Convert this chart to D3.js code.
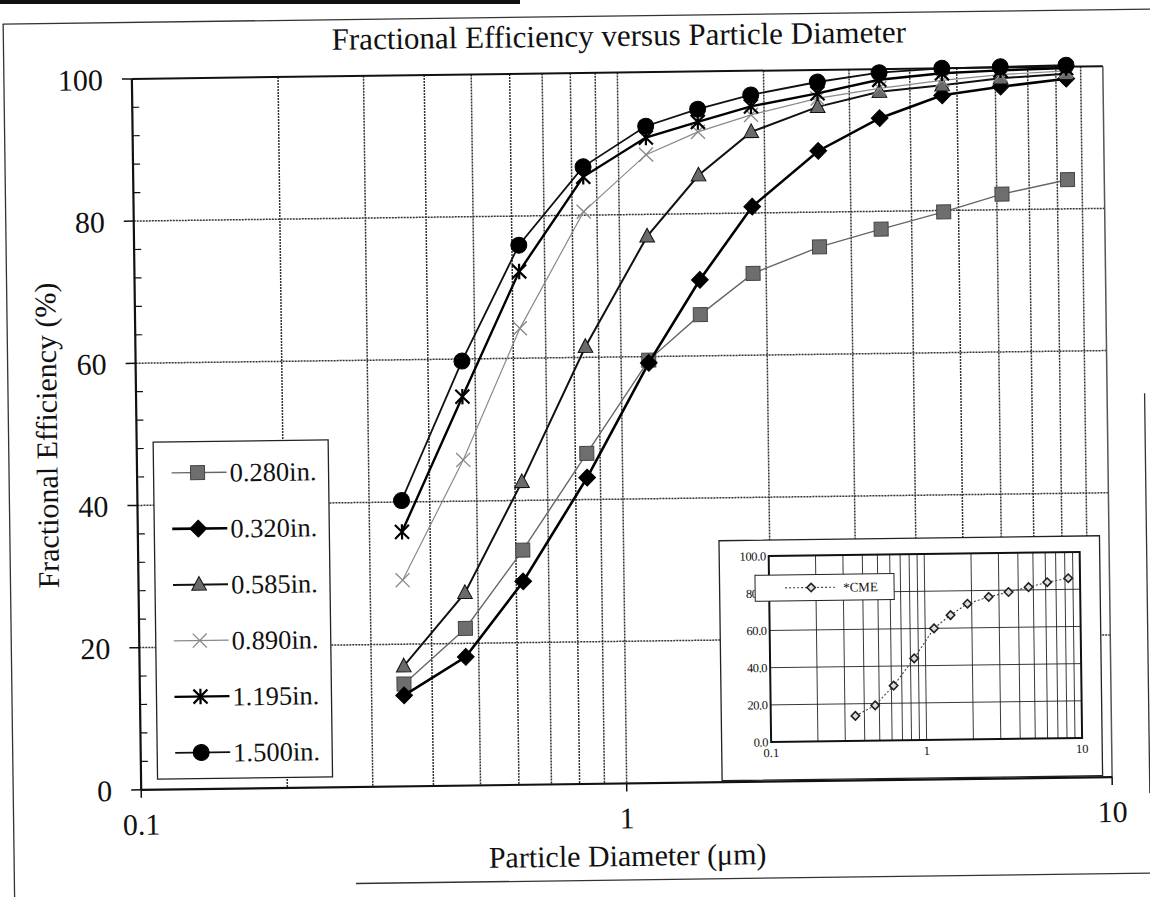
<!DOCTYPE html>
<meta charset='utf-8'>
<script src='https://d3js.org/d3.v7.min.js'></script>
<style>
body { margin: 0; background: #fff; }
text { font-family: 'Liberation Serif', 'Times New Roman', serif; fill: #111; }
</style>
<body>
<script>
// particle diameters (um) shared by every series
var diameters = [0.35, 0.47, 0.62, 0.845, 1.14, 1.46, 1.88, 2.58, 3.46, 4.66, 6.15, 8.4];

var eff280  = [14.4, 22.1, 33.0, 46.5, 59.5, 65.8, 71.5, 75.1, 77.5, 79.8, 82.2, 84.1];
var eff320  = [12.8, 18.1, 28.6, 43.1, 59.1, 70.7, 80.9, 88.6, 93.1, 96.2, 97.3, 98.3];
var eff585  = [16.9, 27.1, 42.6, 61.5, 76.9, 85.4, 91.4, 94.8, 96.8, 97.6, 98.5, 99.0];
var eff890  = [29.0, 45.8, 64.2, 80.5, 88.4, 91.5, 93.8, 96.0, 97.3, 98.3, 99.0, 99.4];
var eff1195 = [35.8, 54.7, 72.2, 85.4, 90.8, 92.9, 95.0, 96.7, 98.5, 99.3, 99.6, 99.8];
var eff1500 = [40.2, 59.7, 75.9, 86.8, 92.4, 94.7, 96.6, 98.3, 99.5, 100.0, 100.1, 100.2];

var seriesNames = ['0.280in.', '0.320in.', '0.585in.', '0.890in.', '1.195in.', '1.500in.'];

// inset chart
var cmeName = '*CME';
var cme = [13.5, 19, 29.5, 44, 60, 67, 73, 76.5, 79, 81.5, 84, 86];

var yTicks = [0, 20, 40, 60, 80, 100];
var xTickLabels = ['0.1', '1', '10'];
var insetYLabels = ['0.0', '20.0', '40.0', '60.0', '80.0', '100.0'];

var styles = [
  {sym: 'square',   line: '#666',    lw: 1.4, fill: '#6e6e6e', stroke: '#444'},
  {sym: 'diamond',  line: '#000',    lw: 2.6, fill: '#000',    stroke: '#000'},
  {sym: 'triangle', line: '#111',    lw: 2.0, fill: '#6a6a6a', stroke: '#111'},
  {sym: 'x',        line: '#8a8a8a', lw: 1.2, fill: 'none',    stroke: '#888'},
  {sym: 'star',     line: '#000',    lw: 2.4, fill: 'none',    stroke: '#000'},
  {sym: 'circle',   line: '#111',    lw: 1.8, fill: '#000',    stroke: '#000'}
];
var series = [eff280, eff320, eff585, eff890, eff1195, eff1500].map(function(v, i) {
  return {name: seriesNames[i], values: v, style: styles[i]};
});

function symbolPath(type, s) {
  if (type == 'square') return 'M' + (-s) + ',' + (-s) + 'h' + 2*s + 'v' + 2*s + 'h' + (-2*s) + 'Z';
  if (type == 'diamond') { var d = s * 1.2; return 'M0,' + (-d) + 'L' + d + ',0L0,' + d + 'L' + (-d) + ',0Z'; }
  if (type == 'triangle') return 'M0,' + (-s * 1.15) + 'L' + s * 1.05 + ',' + s * 0.8 + 'L' + (-s * 1.05) + ',' + s * 0.8 + 'Z';
  if (type == 'x') return 'M' + (-s) + ',' + (-s) + 'L' + s + ',' + s + 'M' + (-s) + ',' + s + 'L' + s + ',' + (-s);
  if (type == 'star') return 'M' + (-s) + ',' + (-s) + 'L' + s + ',' + s + 'M' + (-s) + ',' + s + 'L' + s + ',' + (-s) + 'M0,' + (-s * 1.1) + 'L0,' + s * 1.1;
  if (type == 'circle') return 'M' + s + ',0A' + s + ',' + s + ' 0 1,1 ' + (-s) + ',0A' + s + ',' + s + ' 0 1,1 ' + s + ',0Z';
}
function markerWidth(sym) { return sym == 'x' ? 1.3 : (sym == 'star' ? 2.2 : 1); }

var width = 1150, height = 897;
var svg = d3.select('body').append('svg').attr('width', width).attr('height', height);
svg.append('rect').attr('width', width).attr('height', height).attr('fill', '#fff');

// scanned page edge
svg.append('line').attr('x1', 0).attr('x2', 520).attr('y1', 2).attr('y2', 2)
  .attr('stroke', '#111').attr('stroke-width', 4);

// the scan is slightly rotated
var g = svg.append('g').attr('transform', 'rotate(-0.75,622,428)');

// outer chart frame
g.append('line').attr('x1', 8).attr('x2', 1170).attr('y1', 16).attr('y2', 16).attr('stroke', '#333').attr('stroke-width', 1.3);
g.append('line').attr('x1', 8.5).attr('x2', 8.5).attr('y1', 16).attr('y2', 910).attr('stroke', '#333').attr('stroke-width', 1.3);
g.append('line').attr('x1', 350).attr('x2', 1170).attr('y1', 880).attr('y2', 880).attr('stroke', '#333').attr('stroke-width', 1.3);
g.append('line').attr('x1', 1145).attr('x2', 1145).attr('y1', 400).attr('y2', 800).attr('stroke', '#333').attr('stroke-width', 1.3);

var L = 136.5, T = 72.5, W = 971, H = 711;
var x = d3.scaleLog().domain([0.1, 10]).range([L, L + W]);
var y = d3.scaleLinear().domain([0, 100]).range([T + H, T]);

// grid
var xGrid = x.ticks().filter(function(d) { return d > 0.1 && d < 10; });
g.append('g').selectAll('line').data(xGrid).join('line')
  .attr('x1', function(d) { return x(d); }).attr('x2', function(d) { return x(d); })
  .attr('y1', T).attr('y2', T + H)
  .attr('stroke', '#333').attr('stroke-width', 1.5).attr('stroke-dasharray', '2,1');
g.append('g').selectAll('line').data(yTicks.filter(function(d) { return d > 0 && d < 100; })).join('line')
  .attr('x1', L).attr('x2', L + W)
  .attr('y1', function(d) { return y(d); }).attr('y2', function(d) { return y(d); })
  .attr('stroke', '#333').attr('stroke-width', 1.5).attr('stroke-dasharray', '2,1');

// plot frame
g.append('line').attr('x1', L).attr('x2', L + W).attr('y1', T).attr('y2', T).attr('stroke', '#111').attr('stroke-width', 2);
g.append('line').attr('x1', L + W).attr('x2', L + W).attr('y1', T).attr('y2', T + H).attr('stroke', '#555').attr('stroke-width', 1.5);
g.append('line').attr('x1', L).attr('x2', L + W).attr('y1', T + H).attr('y2', T + H).attr('stroke', '#111').attr('stroke-width', 2.2);
g.append('line').attr('x1', L).attr('x2', L).attr('y1', T).attr('y2', T + H).attr('stroke', '#111').attr('stroke-width', 2.2);

// y ticks: major outside, minor inside every 4
g.append('g').selectAll('line').data(yTicks).join('line')
  .attr('x1', L - 10).attr('x2', L)
  .attr('y1', function(d) { return y(d); }).attr('y2', function(d) { return y(d); })
  .attr('stroke', '#111').attr('stroke-width', 1.5);
g.append('g').selectAll('line').data(d3.range(4, 100, 4).filter(function(d) { return d % 20 != 0; })).join('line')
  .attr('x1', L).attr('x2', L + 7)
  .attr('y1', function(d) { return y(d); }).attr('y2', function(d) { return y(d); })
  .attr('stroke', '#111').attr('stroke-width', 1.2);
g.append('g').selectAll('text').data(yTicks).join('text')
  .attr('x', L - 29).attr('y', function(d) { return y(d); })
  .attr('dy', '0.36em').attr('text-anchor', 'end').attr('font-size', 30)
  .text(function(d) { return d; });

// x ticks
var xMajor = [0.1, 1, 10];
g.append('g').selectAll('line').data(xMajor).join('line')
  .attr('x1', function(d) { return x(d); }).attr('x2', function(d) { return x(d); })
  .attr('y1', T + H).attr('y2', T + H + 8)
  .attr('stroke', '#111').attr('stroke-width', 1.5);
g.append('g').selectAll('text').data(xMajor).join('text')
  .attr('x', function(d) { return x(d); }).attr('y', T + H + 45)
  .attr('text-anchor', 'middle').attr('font-size', 30)
  .text(function(d, i) { return xTickLabels[i]; });

// titles
g.append('text').attr('x', 624).attr('y', 46).attr('text-anchor', 'middle').attr('font-size', 31)
  .text('Fractional Efficiency versus Particle Diameter');
g.append('text').attr('x', 622).attr('y', 866).attr('text-anchor', 'middle').attr('font-size', 30)
  .text('Particle Diameter (\u03bcm)');
g.append('text').attr('transform', 'translate(57,428) rotate(-90)').attr('text-anchor', 'middle').attr('font-size', 30)
  .text('Fractional Efficiency (%)');

// series
var line = d3.line().x(function(d) { return x(d[0]); }).y(function(d) { return y(d[1]); });
var sg = g.append('g').selectAll('g').data(series).join('g');
sg.append('path')
  .attr('d', function(s) { return line(diameters.map(function(dd, i) { return [dd, s.values[i]]; })); })
  .attr('fill', 'none')
  .attr('stroke', function(s) { return s.style.line; })
  .attr('stroke-width', function(s) { return s.style.lw; });
sg.each(function(s) {
  d3.select(this).selectAll('path.m').data(s.values).join('path').attr('class', 'm')
    .attr('transform', function(v, i) { return 'translate(' + x(diameters[i]) + ',' + y(v) + ')'; })
    .attr('d', symbolPath(s.style.sym, s.style.sym == 'circle' ? 8 : 7))
    .attr('fill', s.style.fill)
    .attr('stroke', s.style.stroke)
    .attr('stroke-width', markerWidth(s.style.sym));
});

// legend
var lg = g.append('g');
lg.append('rect').attr('x', 153).attr('y', 436).attr('width', 175).attr('height', 337)
  .attr('fill', '#fff').attr('stroke', '#222').attr('stroke-width', 1.3);
var le = lg.selectAll('g').data(series).join('g')
  .attr('transform', function(s, i) { return 'translate(0,' + (467 + i * 56) + ')'; });
le.append('line').attr('x1', 171).attr('x2', 226)
  .attr('stroke', function(s) { return s.style.line; })
  .attr('stroke-width', function(s) { return s.style.lw; });
le.append('path').attr('transform', 'translate(197,0)')
  .attr('d', function(s) { return symbolPath(s.style.sym, s.style.sym == 'circle' ? 8 : 7); })
  .attr('fill', function(s) { return s.style.fill; })
  .attr('stroke', function(s) { return s.style.stroke; })
  .attr('stroke-width', function(s) { return markerWidth(s.style.sym); });
le.append('text').attr('x', 229).attr('dy', '0.35em').attr('font-size', 26.5)
  .text(function(s) { return s.name; });

// inset chart
var ig = g.append('g');
ig.append('rect').attr('x', 717.5).attr('y', 542).attr('width', 380.5).attr('height', 240)
  .attr('fill', '#fff').attr('stroke', '#222').attr('stroke-width', 1.3);
var iL = 767, iT = 558, iW = 311, iH = 186;
var ix = d3.scaleLog().domain([0.1, 10]).range([iL, iL + iW]);
var iy = d3.scaleLinear().domain([0, 100]).range([iT + iH, iT]);
ig.append('g').selectAll('line').data(xGrid).join('line')
  .attr('x1', function(d) { return ix(d); }).attr('x2', function(d) { return ix(d); })
  .attr('y1', iT).attr('y2', iT + iH).attr('stroke', '#222').attr('stroke-width', 0.9);
ig.append('g').selectAll('line').data([20, 40, 60, 80]).join('line')
  .attr('x1', iL).attr('x2', iL + iW)
  .attr('y1', function(d) { return iy(d); }).attr('y2', function(d) { return iy(d); })
  .attr('stroke', '#222').attr('stroke-width', 0.9);
ig.append('rect').attr('x', iL).attr('y', iT).attr('width', iW).attr('height', iH)
  .attr('fill', 'none').attr('stroke', '#111').attr('stroke-width', 2);
ig.append('g').selectAll('text').data(yTicks).join('text')
  .attr('x', iL - 3).attr('y', function(d) { return iy(d); }).attr('dy', '0.35em')
  .attr('text-anchor', 'end').attr('font-size', 12.5).attr('letter-spacing', -0.4)
  .text(function(d, i) { return insetYLabels[i]; });
ig.append('g').selectAll('text').data(xMajor).join('text')
  .attr('x', function(d) { return ix(d); }).attr('y', iT + iH + 15)
  .attr('text-anchor', 'middle').attr('font-size', 12.5)
  .text(function(d, i) { return xTickLabels[i]; });
var iline = d3.line().x(function(d) { return ix(d[0]); }).y(function(d) { return iy(d[1]); });
ig.append('path').attr('d', iline(diameters.map(function(dd, i) { return [dd, cme[i]]; })))
  .attr('fill', 'none').attr('stroke', '#444').attr('stroke-width', 1.1).attr('stroke-dasharray', '2,2');
ig.append('g').selectAll('path').data(cme).join('path')
  .attr('transform', function(v, i) { return 'translate(' + ix(diameters[i]) + ',' + iy(v) + ')'; })
  .attr('d', symbolPath('diamond', 3.5))
  .attr('fill', '#ddd').attr('stroke', '#222').attr('stroke-width', 1.6);
// inset legend
ig.append('rect').attr('x', 753).attr('y', 577).attr('width', 139).attr('height', 26)
  .attr('fill', '#fff').attr('stroke', '#222').attr('stroke-width', 1);
ig.append('line').attr('x1', 783).attr('x2', 835).attr('y1', 590).attr('y2', 590)
  .attr('stroke', '#444').attr('stroke-width', 1.1).attr('stroke-dasharray', '2,2');
ig.append('path').attr('transform', 'translate(809,590)').attr('d', symbolPath('diamond', 3.5))
  .attr('fill', '#ddd').attr('stroke', '#222').attr('stroke-width', 1.6);
ig.append('text').attr('x', 841).attr('y', 590).attr('dy', '0.35em').attr('font-size', 13).text(cmeName);
</script>
